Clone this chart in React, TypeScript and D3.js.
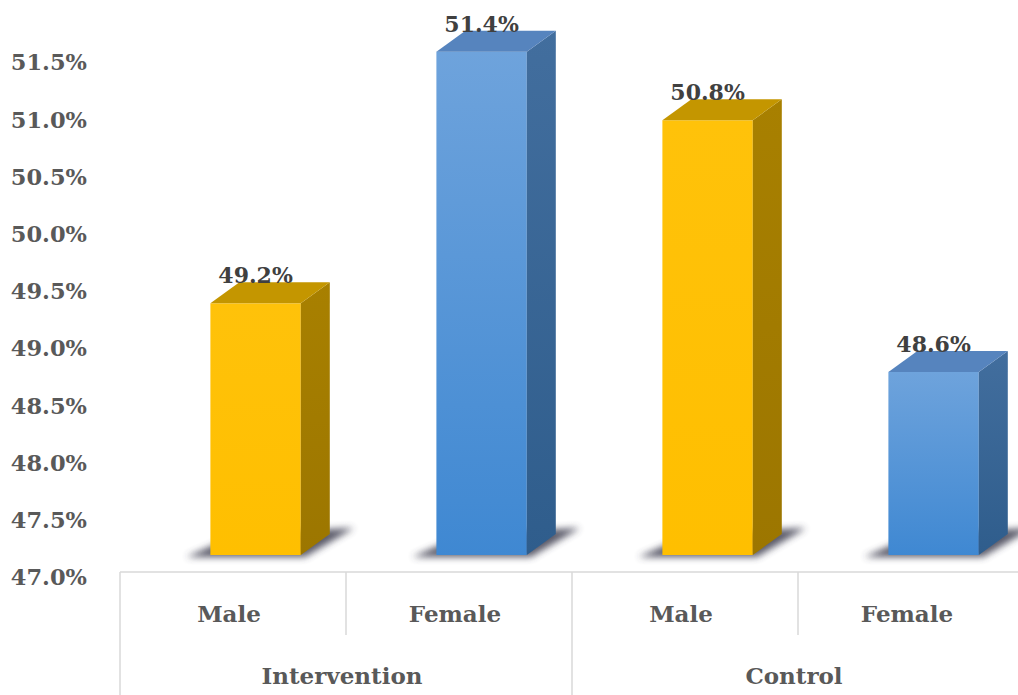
import React from "react";
import * as d3 from "d3";

const categories = ["Male", "Female", "Male", "Female"];
const groups = ["Intervention", "Control"];
const values = [49.2, 51.4, 50.8, 48.6];
const seriesKind = ["male", "female", "male", "female"];
const yTicks = [47.0, 47.5, 48.0, 48.5, 49.0, 49.5, 50.0, 50.5, 51.0, 51.5];

const W = 1018;
const H = 695;

export default function App() {
  const keys = categories.map((c, i) => `${i}`);
  const x = d3.scaleBand<string>().domain(keys).range([120, 1024]).padding(0);
  const y = d3.scaleLinear().domain([47, 51.5]).range([577, 62.2]);
  const bw = x.bandwidth();
  const dx = 29;
  const dy = -21;
  const lift = 22;
  const font = "'DejaVu Serif', serif";

  const colors: Record<string, any> = {
    male: { front: ["#FFC20A", "#FFBF00"], side: ["#A88000", "#9C7600"], top: "#C49600" },
    female: { front: ["#6EA3DC", "#3F88D2"], side: ["#426E9E", "#2F5D8C"], top: "#5684BE" },
  };

  return (
    <svg width={W} height={H} style={{ position: "absolute", left: 0, top: 0, background: "#fff" }}>
      <defs>
        {Object.keys(colors).map((k) => (
          <React.Fragment key={k}>
            <linearGradient id={`front-${k}`} x1="0" y1="0" x2="0" y2="1">
              <stop offset="0" stopColor={colors[k].front[0]} />
              <stop offset="1" stopColor={colors[k].front[1]} />
            </linearGradient>
            <linearGradient id={`side-${k}`} x1="0" y1="0" x2="0" y2="1">
              <stop offset="0" stopColor={colors[k].side[0]} />
              <stop offset="1" stopColor={colors[k].side[1]} />
            </linearGradient>
          </React.Fragment>
        ))}
        <filter id="blur" x="-30%" y="-100%" width="160%" height="300%">
          <feGaussianBlur stdDeviation="3.5" />
        </filter>
      </defs>

      {/* y tick labels */}
      {yTicks.map((t) => (
        <text
          key={t}
          x={87}
          y={y(t)}
          dy="0.36em"
          textAnchor="end"
          fontFamily={font}
          fontWeight="bold"
          fontSize={22.5}
          fill="#595959"
        >
          {t.toFixed(1)}%
        </text>
      ))}

      {/* bars */}
      {values.map((v, i) => {
        const k = seriesKind[i];
        const x0 = (x(keys[i]) as number) + bw * 0.4;
        const w = bw * 0.4;
        const yb = y(47) - lift;
        const yt = y(v) - lift;
        const x1 = x0 + w;
        const shadow = `M${x0 - 24},${yb + 2} L${x1 + 4},${yb + 2} L${x1 + dx + 24},${yb + dy - 6} L${x0 + dx},${yb + dy} Z`;
        return (
          <g key={i}>
            <path d={shadow} fill="#3c3c50" opacity={0.85} filter="url(#blur)" />
            <rect x={x0} y={yt} width={w} height={yb - yt} fill={`url(#front-${k})`} />
            <path
              d={`M${x1},${yt} L${x1 + dx},${yt + dy} L${x1 + dx},${yb + dy} L${x1},${yb} Z`}
              fill={`url(#side-${k})`}
            />
            <path
              d={`M${x0},${yt} L${x0 + dx},${yt + dy} L${x1 + dx},${yt + dy} L${x1},${yt} Z`}
              fill={colors[k].top}
            />
            <text
              x={x0 + w / 2}
              y={yt + dy + 1}
              textAnchor="middle"
              fontFamily={font}
              fontWeight="bold"
              fontSize={22}
              fill="#404040"
            >
              {v.toFixed(1)}%
            </text>
          </g>
        );
      })}

      {/* category axis box */}
      <line x1={120} x2={W} y1={572} y2={572} stroke="#d9d9d9" strokeWidth={1.5} />
      {keys.map((k, i) => {
        const xs = x(k) as number;
        const full = i % 2 === 0;
        return (
          <line key={k} x1={xs} x2={xs} y1={572} y2={full ? H : 635} stroke="#d9d9d9" strokeWidth={1.5} />
        );
      })}
      {categories.map((c, i) => (
        <text
          key={i}
          x={(x(keys[i]) as number) + bw / 2 - 4}
          y={614}
          dy="0.36em"
          textAnchor="middle"
          fontFamily={font}
          fontWeight="bold"
          fontSize={23}
          fill="#595959"
        >
          {c}
        </text>
      ))}
      {groups.map((g, gi) => (
        <text
          key={g}
          x={(x(keys[gi * 2 + 1]) as number) - 4}
          y={676}
          dy="0.36em"
          textAnchor="middle"
          fontFamily={font}
          fontWeight="bold"
          fontSize={23}
          fill="#595959"
        >
          {g}
        </text>
      ))}
    </svg>
  );
}
